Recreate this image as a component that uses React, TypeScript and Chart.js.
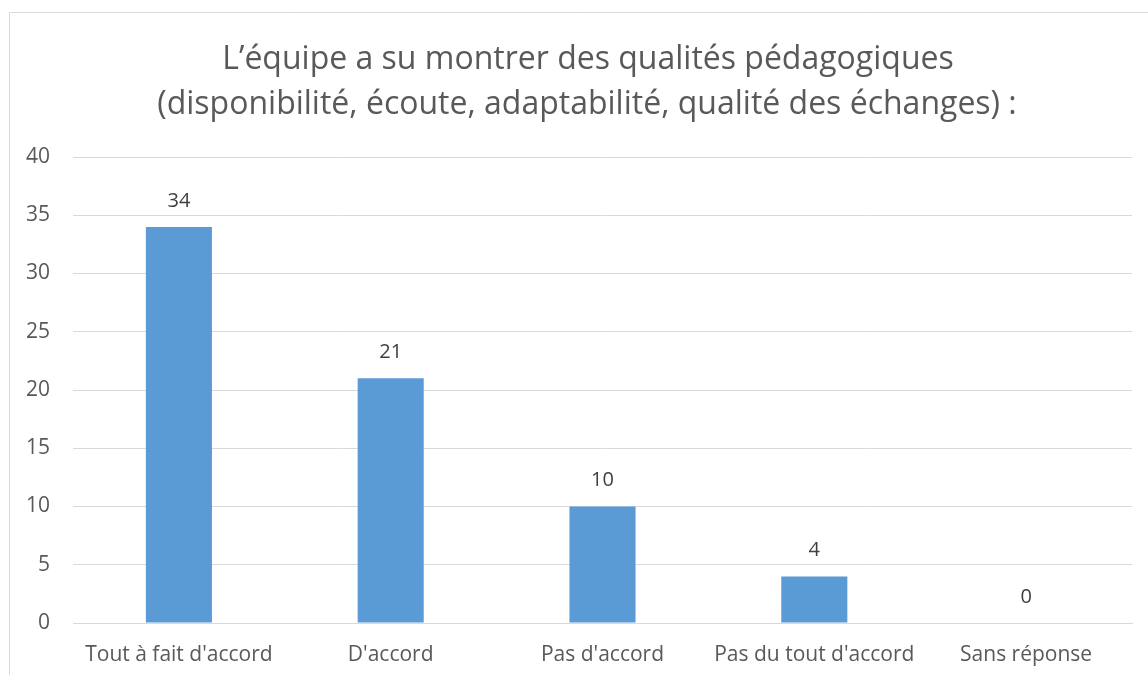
import React, { useEffect, useRef } from "react";
import { Chart, registerables } from "chart.js";

Chart.register(...registerables);

const titleLines = [
  "L’équipe a su montrer des qualités pédagogiques",
  "(disponibilité, écoute, adaptabilité, qualité des échanges) :",
];
const categories = [
  "Tout à fait d'accord",
  "D'accord",
  "Pas d'accord",
  "Pas du tout d'accord",
  "Sans réponse",
];
const values = [34, 21, 10, 4, 0];
const yTicks = [0, 5, 10, 15, 20, 25, 30, 35, 40];

const FONT = "'Open Sans', Lato, 'Noto Sans', sans-serif";
const TEXT = "#595959";

const framePlugin = {
  id: "frame",
  beforeDraw(chart: any) {
    const ctx = chart.ctx;
    ctx.save();
    ctx.fillStyle = "#ffffff";
    ctx.fillRect(0, 0, chart.width, chart.height);
    ctx.strokeStyle = "#d9d9d9";
    ctx.lineWidth = 1;
    ctx.beginPath();
    ctx.moveTo(9.5, chart.height + 2);
    ctx.lineTo(9.5, 12.5);
    ctx.lineTo(chart.width + 2, 12.5);
    ctx.stroke();
    ctx.restore();
  },
  afterDraw(chart: any) {
    const ctx = chart.ctx;
    ctx.save();
    ctx.fillStyle = TEXT;
    ctx.font = `32px ${FONT}`;
    ctx.textAlign = "center";
    ctx.textBaseline = "middle";
    ctx.fillText(titleLines[0], 588, 60);
    ctx.fillText(titleLines[1], 587, 105);
    // data labels
    const meta = chart.getDatasetMeta(0);
    ctx.font = `20px ${FONT}`;
    ctx.fillStyle = "#404040";
    meta.data.forEach((bar: any, i: number) => {
      ctx.fillText(String(values[i]), bar.x, bar.y - 26);
    });
    ctx.restore();
  },
};

export default function App() {
  const ref = useRef<HTMLCanvasElement>(null);
  useEffect(() => {
    if (!ref.current) return;
    const chart = new Chart(ref.current, {
      type: "bar",
      data: {
        labels: categories,
        datasets: [
          {
            data: values,
            backgroundColor: "#5B9BD5",
            borderWidth: 0,
            barPercentage: 0.312,
            categoryPercentage: 1,
          },
        ],
      },
      plugins: [framePlugin],
      options: {
        animation: false,
        responsive: false,
        maintainAspectRatio: false,
        layout: { padding: { left: 20, right: 16, top: 157, bottom: 0 } },
        plugins: {
          legend: { display: false },
          title: { display: false },
          tooltip: { enabled: false },
        },
        scales: {
          x: {
            grid: { display: false, drawTicks: false },
            border: { display: true, color: "#d9d9d9", width: 1 },
            ticks: {
              color: TEXT,
              font: { family: FONT, size: 21 },
              padding: 19,
              maxRotation: 0,
              autoSkip: false,
            },
            afterFit(scale: any) {
              scale.height = 52;
            },
          },
          y: {
            min: 0,
            max: 40,
            afterBuildTicks(scale: any) {
              scale.ticks = yTicks.map((v) => ({ value: v }));
            },
            grid: { color: "#d9d9d9", lineWidth: 1, drawTicks: false },
            border: { display: false },
            ticks: {
              color: TEXT,
              font: { family: FONT, size: 21 },
              padding: 23,
            },
            afterFit(scale: any) {
              scale.width = 53;
            },
          },
        },
      },
    });
    return () => chart.destroy();
  }, []);
  return (
    <div style={{ position: "fixed", left: 0, top: 0, width: 1148, height: 675, overflow: "hidden", background: "#fff" }}>
      <canvas ref={ref} width={1148} height={675} style={{ display: "block" }} />
    </div>
  );
}
